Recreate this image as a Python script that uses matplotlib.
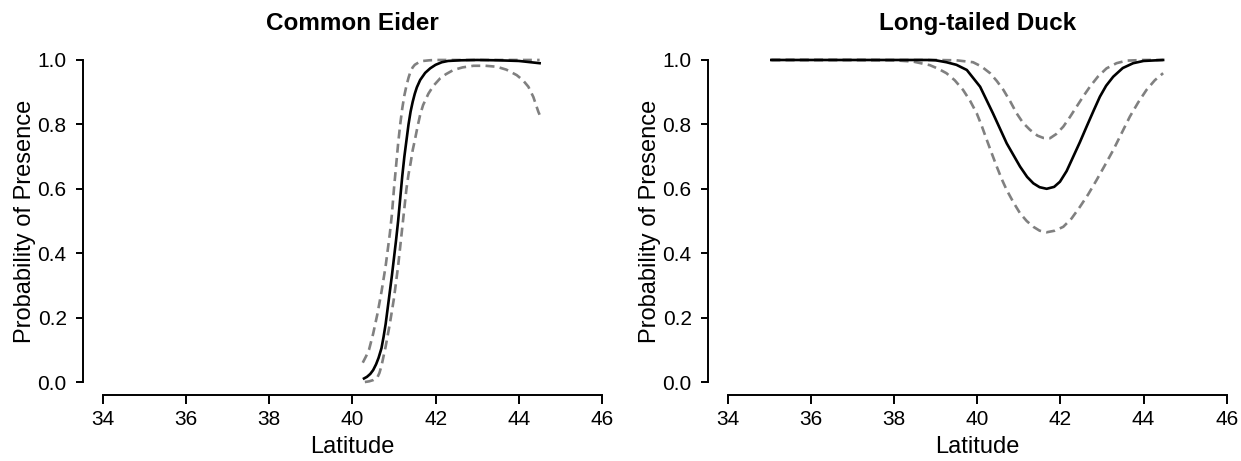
import matplotlib
matplotlib.use("Agg")
import matplotlib.pyplot as plt

plt.rcParams['font.family'] = ['Liberation Sans', 'DejaVu Sans']

# ---- Common Eider ----
eider_lat = [40.28, 40.35, 40.43, 40.5, 40.57, 40.63, 40.7, 40.75, 40.8, 40.85, 40.9,
             40.95, 41.0, 41.05, 41.1, 41.15, 41.2, 41.25, 41.3, 41.35, 41.4, 41.45,
             41.5, 41.55, 41.63, 41.75, 41.87, 42.0, 42.15, 42.3, 42.6, 43.0, 43.5,
             44.0, 44.5]
eider_fit = [0.011, 0.016, 0.025, 0.037, 0.055, 0.075, 0.105, 0.14, 0.18, 0.23, 0.28,
             0.33, 0.385, 0.44, 0.50, 0.57, 0.64, 0.70, 0.75, 0.80, 0.84, 0.87,
             0.895, 0.915, 0.938, 0.96, 0.974, 0.985, 0.993, 0.997, 0.999, 1.0, 0.999,
             0.997, 0.99]

eider_up_lat = [40.25, 40.33, 40.4, 40.5, 40.6, 40.7, 40.8, 40.85, 40.9, 40.95, 41.0,
                41.05, 41.1, 41.15, 41.2, 41.25, 41.3, 41.35, 41.4, 41.45, 41.5, 41.6,
                41.7, 41.85, 42.0, 43.0, 44.0, 44.5]
eider_up = [0.06, 0.08, 0.10, 0.15, 0.21, 0.28, 0.36, 0.41, 0.46, 0.52, 0.60,
            0.67, 0.74, 0.80, 0.85, 0.89, 0.92, 0.945, 0.965, 0.977, 0.985, 0.993,
            0.997, 0.999, 1.0, 1.0, 1.0, 1.0]

eider_lo_lat = [40.3, 40.4, 40.5, 40.6, 40.65, 40.7, 40.75, 40.8, 40.85, 40.9, 40.95,
                41.0, 41.05, 41.1, 41.15, 41.2, 41.25, 41.3, 41.35, 41.4, 41.45, 41.5,
                41.57, 41.63, 41.7, 41.83, 41.95, 42.11, 42.25, 42.43, 42.65, 42.91,
                43.2, 43.47, 43.7, 43.95, 44.1, 44.23, 44.35, 44.47, 44.5]
eider_lo = [0.0, 0.002, 0.006, 0.014, 0.028, 0.05, 0.08, 0.11, 0.145, 0.18, 0.22,
            0.26, 0.31, 0.36, 0.42, 0.48, 0.54, 0.60, 0.645, 0.68, 0.72, 0.75,
            0.795, 0.83, 0.86, 0.896, 0.92, 0.943, 0.956, 0.969, 0.977, 0.982,
            0.982, 0.979, 0.97, 0.953, 0.937, 0.917, 0.885, 0.839, 0.83]

# ---- Long-tailed Duck ----
duck_lat = [35.05, 36.0, 37.0, 38.0, 38.8, 39.0, 39.26, 39.5, 39.75, 40.07, 40.38,
            40.71, 41.03, 41.2, 41.35, 41.5, 41.67, 41.85, 41.99, 42.15, 42.31, 42.47,
            42.63, 42.8, 42.95, 43.1, 43.27, 43.5, 43.75, 44.0, 44.47]
duck_fit = [1.0, 1.0, 1.0, 1.0, 1.0, 0.999, 0.993, 0.985, 0.969, 0.917, 0.834,
            0.741, 0.669, 0.637, 0.617, 0.605, 0.600, 0.606, 0.622, 0.655, 0.70, 0.745,
            0.793, 0.843, 0.886, 0.92, 0.948, 0.975, 0.99, 0.997, 1.0]

duck_up_lat = [35.05, 36.0, 37.0, 38.0, 39.0, 39.5, 39.9, 40.1, 40.31, 40.47, 40.63,
               40.8, 40.95, 41.1, 41.27, 41.45, 41.59, 41.75, 41.9, 42.07, 42.23,
               42.39, 42.55, 42.71, 42.9, 43.11, 43.35, 43.59, 44.0, 44.47]
duck_up = [1.0, 1.0, 1.0, 1.0, 1.0, 0.999, 0.993, 0.98, 0.959, 0.935, 0.907,
           0.87, 0.834, 0.805, 0.783, 0.765, 0.758, 0.757, 0.77, 0.793, 0.823,
           0.855, 0.887, 0.917, 0.948, 0.974, 0.99, 0.998, 1.0, 1.0]

duck_lo_lat = [35.05, 36.0, 37.0, 38.0, 38.46, 38.86, 39.06, 39.26, 39.46, 39.66,
               39.83, 39.99, 40.11, 40.23, 40.35, 40.47, 40.59, 40.71, 40.87, 41.03,
               41.19, 41.35, 41.5, 41.67, 41.87, 42.07, 42.27, 42.47, 42.67, 42.87,
               43.07, 43.27, 43.47, 43.67, 43.87, 44.07, 44.27, 44.47]
duck_lo = [1.0, 1.0, 1.0, 0.999, 0.995, 0.984, 0.973, 0.959, 0.937, 0.907,
           0.873, 0.834, 0.795, 0.752, 0.71, 0.669, 0.63, 0.596, 0.558, 0.524,
           0.50, 0.482, 0.47, 0.465, 0.47, 0.482, 0.508, 0.544, 0.583, 0.627,
           0.673, 0.72, 0.772, 0.824, 0.868, 0.907, 0.937, 0.959]

titles = ["Common Eider", "Long-tailed Duck"]
xticks = [34, 36, 38, 40, 42, 44, 46]
yticks = [0.0, 0.2, 0.4, 0.6, 0.8, 1.0]
ytick_labels = ["0.0", "0.2", "0.4", "0.6", "0.8", "1.0"]

W, H = 1241, 461
fig = plt.figure(figsize=(W / 100, H / 100), dpi=100)

def px_axes(x0, x1, ytop, ybot):
    return fig.add_axes([x0 / W, 1 - ybot / H, (x1 - x0) / W, (ybot - ytop) / H])

ax1 = px_axes(82.7, 622.0, 47.1, 394.9)
ax2 = px_axes(707.7, 1246.7, 47.1, 394.9)

data = [
    (eider_lat, eider_fit, eider_up_lat, eider_up, eider_lo_lat, eider_lo),
    (duck_lat, duck_fit, duck_up_lat, duck_up, duck_lo_lat, duck_lo),
]

gray = "#808080"
for ax, title, (lx, ly, ux, uy, dx, dy) in zip([ax1, ax2], titles, data):
    ax.plot(ux, uy, color=gray, lw=1.9, dashes=(3.4, 2.0))
    ax.plot(dx, dy, color=gray, lw=1.9, dashes=(3.4, 2.0))
    ax.plot(lx, ly, color="black", lw=1.9)
    ax.set_xlim(33.52, 46.48)
    ax.set_ylim(-0.04, 1.04)
    ax.set_xticks(xticks)
    ax.set_xticklabels([str(t) for t in xticks])
    ax.set_yticks(yticks)
    ax.set_yticklabels(ytick_labels)
    for s in ["top", "right"]:
        ax.spines[s].set_visible(False)
    ax.spines["left"].set_bounds(0, 1)
    ax.spines["bottom"].set_bounds(34, 46)
    for s in ["left", "bottom"]:
        ax.spines[s].set_linewidth(1.4)
    ax.tick_params(axis="x", length=6.2, width=1.4, pad=5, labelsize=15)
    ax.tick_params(axis="y", length=5.0, width=1.4, pad=6.5, labelsize=15)
    ax.set_xlabel("Latitude", fontsize=17, labelpad=5)
    ax.set_ylabel("Probability of Presence", fontsize=17, labelpad=1)
    ax.set_title(title, fontsize=17.5, fontweight="bold", pad=12)

fig.savefig("out.png", dpi=100)
